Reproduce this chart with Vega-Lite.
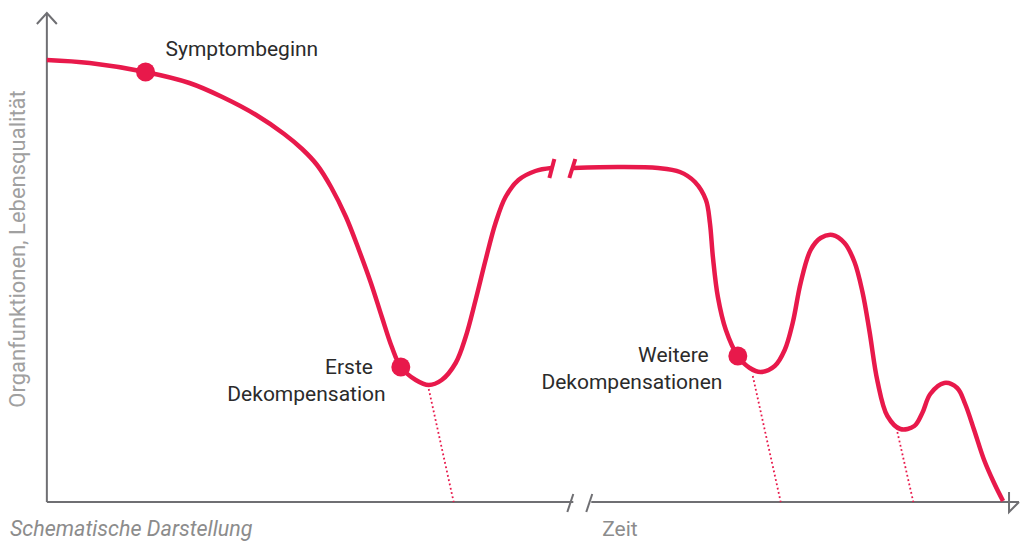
{
  "$schema": "https://vega.github.io/schema/vega-lite/v6.json",
  "width": 1023,
  "height": 541,
  "autosize": {"type": "fit", "contains": "padding"},
  "padding": 0,
  "background": "white",
  "config": {"view": {"stroke": null}},
  "datasets": {
    "lines": [
      {"kind": "axis", "seg": "yaxis", "x": 47, "y": 502},
      {"kind": "axis", "seg": "yaxis", "x": 47, "y": 14},
      {"kind": "axis", "seg": "yarrow", "x": 37, "y": 24},
      {"kind": "axis", "seg": "yarrow", "x": 47, "y": 13},
      {"kind": "axis", "seg": "yarrow", "x": 57, "y": 24},
      {"kind": "axis", "seg": "xaxis1", "x": 47, "y": 502},
      {"kind": "axis", "seg": "xaxis1", "x": 575, "y": 502},
      {"kind": "axis", "seg": "xaxis2", "x": 593, "y": 502},
      {"kind": "axis", "seg": "xaxis2", "x": 1022, "y": 502},
      {"kind": "axis", "seg": "xarrow", "x": 1012, "y": 492},
      {"kind": "axis", "seg": "xarrow", "x": 1022, "y": 502},
      {"kind": "axis", "seg": "xarrow", "x": 1012, "y": 512},
      {"kind": "axis", "seg": "xbreak1", "x": 569, "y": 512},
      {"kind": "axis", "seg": "xbreak1", "x": 575, "y": 494},
      {"kind": "axis", "seg": "xbreak2", "x": 588, "y": 512},
      {"kind": "axis", "seg": "xbreak2", "x": 594, "y": 494},
      {"kind": "tick", "seg": "cbreak1", "x": 551, "y": 178},
      {"kind": "tick", "seg": "cbreak1", "x": 556, "y": 159},
      {"kind": "tick", "seg": "cbreak2", "x": 571, "y": 178},
      {"kind": "tick", "seg": "cbreak2", "x": 577, "y": 159},
      {"kind": "dot", "seg": "d1", "x": 430, "y": 389},
      {"kind": "dot", "seg": "d1", "x": 455, "y": 502},
      {"kind": "dot", "seg": "d2", "x": 755, "y": 376},
      {"kind": "dot", "seg": "d2", "x": 783, "y": 502},
      {"kind": "dot", "seg": "d3", "x": 900, "y": 432},
      {"kind": "dot", "seg": "d3", "x": 916, "y": 502}
    ],
    "curve": [
      {"seg": "c1", "x": 47, "y": 60},
      {"seg": "c1", "x": 90, "y": 63},
      {"seg": "c1", "x": 146, "y": 72},
      {"seg": "c1", "x": 190, "y": 83},
      {"seg": "c1", "x": 223, "y": 97},
      {"seg": "c1", "x": 257, "y": 115},
      {"seg": "c1", "x": 285, "y": 134},
      {"seg": "c1", "x": 303, "y": 149},
      {"seg": "c1", "x": 318, "y": 165},
      {"seg": "c1", "x": 332, "y": 187},
      {"seg": "c1", "x": 347, "y": 217},
      {"seg": "c1", "x": 360, "y": 250},
      {"seg": "c1", "x": 372, "y": 283},
      {"seg": "c1", "x": 383, "y": 317},
      {"seg": "c1", "x": 393, "y": 347},
      {"seg": "c1", "x": 402, "y": 367},
      {"seg": "c1", "x": 417, "y": 380},
      {"seg": "c1", "x": 430, "y": 385},
      {"seg": "c1", "x": 443, "y": 380},
      {"seg": "c1", "x": 457, "y": 363},
      {"seg": "c1", "x": 467, "y": 337},
      {"seg": "c1", "x": 477, "y": 300},
      {"seg": "c1", "x": 487, "y": 260},
      {"seg": "c1", "x": 497, "y": 223},
      {"seg": "c1", "x": 507, "y": 197},
      {"seg": "c1", "x": 520, "y": 180},
      {"seg": "c1", "x": 537, "y": 171},
      {"seg": "c1", "x": 553, "y": 168},
      {"seg": "c2", "x": 575, "y": 168},
      {"seg": "c2", "x": 620, "y": 167},
      {"seg": "c2", "x": 660, "y": 168},
      {"seg": "c2", "x": 682, "y": 172},
      {"seg": "c2", "x": 697, "y": 182},
      {"seg": "c2", "x": 708, "y": 200},
      {"seg": "c2", "x": 712, "y": 223},
      {"seg": "c2", "x": 715, "y": 257},
      {"seg": "c2", "x": 720, "y": 297},
      {"seg": "c2", "x": 728, "y": 330},
      {"seg": "c2", "x": 740, "y": 356},
      {"seg": "c2", "x": 752, "y": 368},
      {"seg": "c2", "x": 763, "y": 372},
      {"seg": "c2", "x": 777, "y": 366},
      {"seg": "c2", "x": 787, "y": 350},
      {"seg": "c2", "x": 795, "y": 323},
      {"seg": "c2", "x": 803, "y": 283},
      {"seg": "c2", "x": 813, "y": 250},
      {"seg": "c2", "x": 823, "y": 238},
      {"seg": "c2", "x": 835, "y": 235},
      {"seg": "c2", "x": 847, "y": 243},
      {"seg": "c2", "x": 857, "y": 262},
      {"seg": "c2", "x": 865, "y": 292},
      {"seg": "c2", "x": 872, "y": 331},
      {"seg": "c2", "x": 880, "y": 381},
      {"seg": "c2", "x": 890, "y": 416},
      {"seg": "c2", "x": 903, "y": 429},
      {"seg": "c2", "x": 917, "y": 426},
      {"seg": "c2", "x": 925, "y": 413},
      {"seg": "c2", "x": 933, "y": 394},
      {"seg": "c2", "x": 947, "y": 383},
      {"seg": "c2", "x": 960, "y": 388},
      {"seg": "c2", "x": 968, "y": 404},
      {"seg": "c2", "x": 977, "y": 430},
      {"seg": "c2", "x": 987, "y": 460},
      {"seg": "c2", "x": 997, "y": 483},
      {"seg": "c2", "x": 1006, "y": 501}
    ],
    "points": [
      {"label": "Symptombeginn", "x": 146, "y": 72},
      {"label": "Erste Dekompensation", "x": 402, "y": 367},
      {"label": "Weitere Dekompensationen", "x": 740, "y": 356}
    ],
    "labels": [
      {"text": "Symptombeginn", "x": 166, "y": 50},
      {"text": "Erste", "x": 326, "y": 368},
      {"text": "Dekompensation", "x": 228, "y": 395},
      {"text": "Weitere", "x": 640, "y": 356},
      {"text": "Dekompensationen", "x": 543, "y": 383}
    ],
    "notes": [
      {"text": "Zeit", "x": 604, "y": 530}
    ],
    "notesItalic": [
      {"text": "Schematische Darstellung", "x": 10, "y": 530}
    ],
    "ylabel": [
      {"text": "Organfunktionen, Lebensqualität", "x": 18, "y": 249}
    ]
  },
  "encoding": {
    "x": {"field": "x", "type": "quantitative", "scale": {"domain": [0, 1023], "nice": false, "zero": false}, "axis": null},
    "y": {"field": "y", "type": "quantitative", "scale": {"domain": [0, 541], "nice": false, "zero": false, "reverse": true}, "axis": null}
  },
  "layer": [
    {
      "data": {"name": "lines"},
      "transform": [{"filter": "datum.kind === 'axis'"}],
      "mark": {"type": "line", "color": "#6f6f73", "strokeWidth": 2, "clip": false, "strokeCap": "butt"},
      "encoding": {"detail": {"field": "seg"}, "order": {"value": 0}}
    },
    {
      "data": {"name": "lines"},
      "transform": [{"filter": "datum.kind === 'dot'"}],
      "mark": {"type": "line", "color": "#e8194b", "strokeWidth": 1.8, "strokeDash": [1.8, 2.6], "clip": false},
      "encoding": {"detail": {"field": "seg"}, "order": {"value": 0}}
    },
    {
      "data": {"name": "curve"},
      "mark": {"type": "line", "color": "#e8194b", "strokeWidth": 4.5, "interpolate": "catmull-rom", "clip": false, "strokeCap": "butt"},
      "encoding": {"detail": {"field": "seg"}}
    },
    {
      "data": {"name": "lines"},
      "transform": [{"filter": "datum.kind === 'tick'"}],
      "mark": {"type": "line", "color": "#e8194b", "strokeWidth": 4, "clip": false, "strokeCap": "butt"},
      "encoding": {"detail": {"field": "seg"}, "order": {"value": 0}}
    },
    {
      "data": {"name": "points"},
      "mark": {"type": "point", "shape": "circle", "filled": true, "opacity": 1, "color": "#e8194b", "size": 360}
    },
    {
      "data": {"name": "labels"},
      "mark": {"type": "text", "align": "left", "baseline": "middle", "font": "Roboto", "fontSize": 21, "color": "#2b2b2b"},
      "encoding": {"text": {"field": "text"}}
    },
    {
      "data": {"name": "notes"},
      "mark": {"type": "text", "align": "left", "baseline": "middle", "font": "Roboto", "fontSize": 21, "color": "#8c8c8c"},
      "encoding": {"text": {"field": "text"}}
    },
    {
      "data": {"name": "notesItalic"},
      "mark": {"type": "text", "align": "left", "baseline": "middle", "font": "Roboto", "fontSize": 21.5, "fontStyle": "italic", "color": "#8c8c8c"},
      "encoding": {"text": {"field": "text"}}
    },
    {
      "data": {"name": "ylabel"},
      "mark": {"type": "text", "align": "center", "baseline": "middle", "angle": 270, "font": "Roboto", "fontSize": 22, "color": "#a0a0a0"},
      "encoding": {"text": {"field": "text"}}
    }
  ]
}
